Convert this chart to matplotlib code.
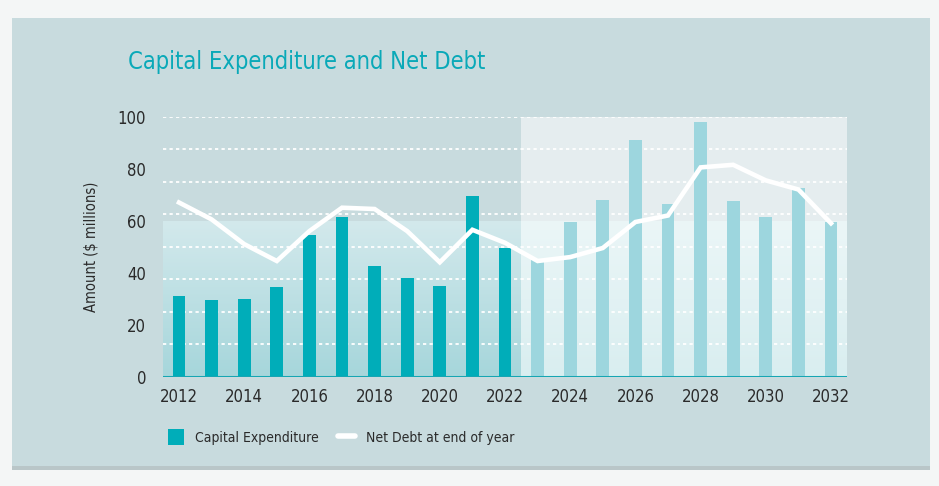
import numpy as np
import matplotlib
matplotlib.use("Agg")
import matplotlib.pyplot as plt
from matplotlib import font_manager as fm
from matplotlib.patches import Rectangle, Patch
from matplotlib.lines import Line2D
from matplotlib.colors import LinearSegmentedColormap

# ---- data ----
years = list(range(2012, 2033))
capex = [31, 29.5, 30, 34.5, 54.5, 61.5, 42.5, 38, 35, 69.5, 49.5,
         45, 59.5, 68, 91, 66.5, 98, 67.5, 61.5, 72.5, 59.5]
net_debt = [67, 60.5, 51, 44.5, 56, 65, 64.5, 56, 44, 56.5, 51.5,
            44.5, 46, 49.5, 59.5, 62, 80.5, 81.5, 75.5, 72, 59]
last_actual_year = 2022
xtick_years = list(range(2012, 2033, 2))
ytick_vals = [0, 20, 40, 60, 80, 100]
title = "Capital Expenditure and Net Debt"
ylabel = "Amount ($ millions)"
legend_labels = ["Capital Expenditure", "Net Debt at end of year"]

# ---- fonts ----
names = {f.name for f in fm.fontManager.ttflist}
if "Liberation Sans Narrow" in names:
    FONT = dict(family="Liberation Sans Narrow")
else:
    FONT = dict(family="DejaVu Sans", stretch="condensed")

BG = "#c8dbde"
TEAL = "#00adb9"
LIGHT = "#9dd6de"
TXT = "#2a2a2a"

fig = plt.figure(figsize=(9.39, 4.86), dpi=100, facecolor="#f4f6f6")
# panel
fig.patches.append(Rectangle((12/939, 1-466/486), 918/939, 448/486,
                             transform=fig.transFigure, facecolor=BG,
                             edgecolor="none", zorder=-5))
# subtle bottom shadow
fig.patches.append(Rectangle((12/939, 1-470/486), 918/939, 4/486,
                             transform=fig.transFigure, facecolor="#b9c6c8",
                             edgecolor="none", zorder=-6))

ax = fig.add_axes([162.7/939, 1-376.7/486, 684.6/939, 260/486])
ax.set_zorder(2)
ax.set_facecolor(BG)
x0, x1 = years[0]-0.5, years[-1]+0.5
split = last_actual_year + 0.5

# background regions
cm_hist = LinearSegmentedColormap.from_list("h", ["#a6d6db", "#d3e9ec"])
cm_fore = LinearSegmentedColormap.from_list("f", ["#d9eef0", "#ebf6f7"])
grad = np.linspace(0, 1, 256).reshape(-1, 1)
ax.imshow(grad, extent=(x0, split, 0, 60), origin="lower", cmap=cm_hist,
          aspect="auto", zorder=0)
ax.imshow(grad, extent=(split, x1, 0, 60), origin="lower", cmap=cm_fore,
          aspect="auto", zorder=0)
ax.add_patch(Rectangle((split, 60), x1-split, 40, facecolor="#e5edef",
                       edgecolor="none", zorder=0))

# gridlines
for g in np.arange(12.5, 100.1, 12.5):
    ax.axhline(g, color="white", lw=1.3, ls=(0, (1.8, 1.8)), zorder=1)

colors = [TEAL if y <= last_actual_year else LIGHT for y in years]
ax.bar(years, capex, width=0.39, color=colors, zorder=2)
ax.plot(years, net_debt, color="white", lw=3.3, zorder=3,
        solid_joinstyle="miter")
ax.axhline(0, color="#16a6b3", lw=2.2, zorder=4)
ax.set_xlim(x0, x1)
ax.set_ylim(0, 100)

for s in ax.spines.values():
    s.set_visible(False)
ax.set_xticks(xtick_years)
ax.set_xticklabels([str(y) for y in xtick_years], fontsize=12, color=TXT, **FONT)
ax.set_yticks(ytick_vals)
ax.set_yticklabels([str(v) for v in ytick_vals], fontsize=12, color=TXT, **FONT)
ax.tick_params(length=0, pad=8)
ax.tick_params(axis="y", pad=12)
ax.set_ylabel(ylabel, fontsize=10.5, color=TXT, labelpad=14, **FONT)

fig.text(128/939, 1-62/486, title, fontsize=17, color="#0aa9b8",
         va="center", ha="left", **FONT)

handles = [Patch(facecolor=TEAL, edgecolor="none"),
           Line2D([0], [0], color="white", lw=4, solid_capstyle="round")]
leg = fig.legend(handles, legend_labels, loc="center left",
                 bbox_to_anchor=(155/939, 1-437/486), ncol=2, frameon=False,
                 prop=dict(size=10, **FONT), handlelength=1.2,
                 handleheight=1.3, columnspacing=1.4, handletextpad=0.8)
for t in leg.get_texts():
    t.set_color(TXT)

fig.savefig("out.png", dpi=100, facecolor=fig.get_facecolor())
